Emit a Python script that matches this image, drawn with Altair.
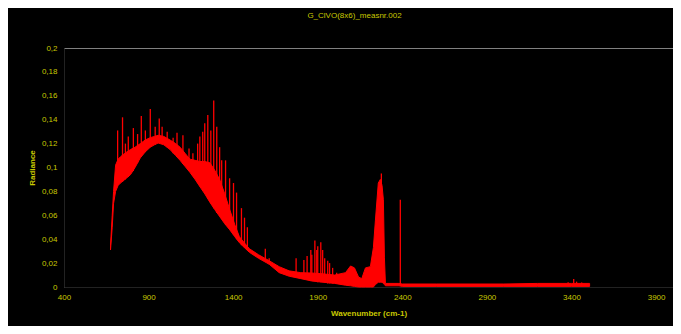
import altair as alt
import pandas as pd

# ---- data ----
band_wn = [675, 685, 693, 705, 720, 734, 760, 793, 820, 851, 880, 910, 935, 957, 990,
           1027, 1060, 1086, 1115, 1144, 1175, 1203, 1232, 1262, 1290, 1320, 1350, 1379,
           1410, 1437, 1466, 1496, 1550, 1613, 1672, 1731, 1800, 1865, 1930, 2000, 2064,
           2094, 2117, 2141, 2160, 2182, 2211, 2229, 2241, 2258, 2270, 2280, 2288, 2294,
           2300, 2380, 2400, 2600, 2800, 3000, 3200, 3400, 3507]
band_lo = [0.031, 0.050, 0.070, 0.080, 0.085, 0.087, 0.090, 0.094, 0.100, 0.108, 0.113,
           0.117, 0.119, 0.1205, 0.119, 0.115, 0.110, 0.106, 0.101, 0.096, 0.090, 0.084,
           0.078, 0.071, 0.065, 0.059, 0.053, 0.048, 0.042, 0.037, 0.033, 0.029, 0.024,
           0.019, 0.012, 0.009, 0.007, 0.005, 0.004, 0.003, 0.0015, 0.001, 0.0005, 0.0,
           0.0, 0.0, 0.0, 0.0, 0.002, 0.004, 0.004, 0.004, 0.003, 0.002, 0.001, 0.001,
           0.0005, 0.0005, 0.0005, 0.0005, 0.0005, 0.0005, 0.0005]
band_hi = [0.035, 0.060, 0.080, 0.102, 0.107, 0.109, 0.112, 0.115, 0.117, 0.120, 0.123,
           0.125, 0.126, 0.127, 0.126, 0.123, 0.120, 0.117, 0.112, 0.107, 0.106, 0.105,
           0.105, 0.104, 0.098, 0.090, 0.078, 0.065, 0.052, 0.042, 0.037, 0.032, 0.027,
           0.022, 0.017, 0.0135, 0.012, 0.0117, 0.011, 0.010, 0.012, 0.0176, 0.016,
           0.0084, 0.007, 0.016, 0.017, 0.033, 0.056, 0.087, 0.090, 0.085, 0.073, 0.025,
           0.003, 0.003, 0.0025, 0.0025, 0.0025, 0.0025, 0.003, 0.003, 0.003]

spike_wn = [717, 746, 763, 780, 810, 835, 857, 881, 910, 939, 963, 980, 1010, 1045, 1068,
            1103, 1139, 1162, 1190, 1203, 1220, 1232, 1250, 1268, 1285, 1303, 1320, 1332,
            1355, 1379, 1402, 1420, 1449, 1467, 1484, 1590, 1613, 1660, 1772, 1818, 1837,
            1859, 1865, 1883, 1894, 1900, 1918, 1929, 1941, 1959, 1970, 1988, 2012, 2276,
            2388, 3380, 3413, 3430, 3460]
spike_top = [0.131, 0.142, 0.120, 0.126, 0.133, 0.128, 0.143, 0.131, 0.149, 0.134, 0.141,
             0.134, 0.130, 0.125, 0.129, 0.127, 0.116, 0.112, 0.120, 0.126, 0.130, 0.137,
             0.144, 0.131, 0.156, 0.134, 0.117, 0.106, 0.106, 0.091, 0.087, 0.079, 0.066,
             0.058, 0.050, 0.032, 0.024, 0.018, 0.024, 0.0225, 0.026, 0.031, 0.027, 0.039,
             0.031, 0.034, 0.0375, 0.031, 0.024, 0.022, 0.020, 0.016, 0.012, 0.095, 0.073,
             0.004, 0.0067, 0.0045, 0.0038]
spike_base = [0.085, 0.088, 0.090, 0.092, 0.097, 0.104, 0.109, 0.113, 0.117, 0.119, 0.120,
              0.120, 0.117, 0.112, 0.109, 0.103, 0.097, 0.093, 0.087, 0.084, 0.081, 0.078,
              0.074, 0.070, 0.066, 0.062, 0.059, 0.057, 0.052, 0.048, 0.044, 0.040, 0.035,
              0.033, 0.031, 0.022, 0.019, 0.014, 0.008, 0.007, 0.006, 0.005, 0.005, 0.005,
              0.005, 0.004, 0.004, 0.004, 0.004, 0.003, 0.003, 0.003, 0.003, 0.005, 0.001,
              0.001, 0.001, 0.001, 0.001]

x_ticks = [400, 900, 1400, 1900, 2400, 2900, 3400, 3900]
y_ticks = [0, 0.02, 0.04, 0.06, 0.08, 0.1, 0.12, 0.14, 0.16, 0.18, 0.2]

band = pd.DataFrame({"wn": band_wn, "lo": band_lo, "hi": band_hi})
spikes = pd.DataFrame({"wn": spike_wn, "top": spike_top, "base": spike_base})

YEL = "#c8c800"
FONT = "Liberation Sans"

xscale = alt.Scale(domain=[400, 4000], nice=False, zero=False)
yscale = alt.Scale(domain=[0, 0.2], nice=False)

xaxis = alt.Axis(values=x_ticks, title="Wavenumber (cm-1)", grid=False, ticks=False,
                 labelPadding=6, titlePadding=8, format="d",
                 labelFlush=False, labelOverlap=False)
yaxis = alt.Axis(values=y_ticks, title="Radiance", grid=False, ticks=False,
                 labelPadding=7, titlePadding=5, labelFlush=False, labelOverlap=False,
                 labelExpr="replace(format(datum.value, '.2~f'), '.', ',')")

area = alt.Chart(band).mark_area(color="#ff0000", stroke="#ff0000", strokeWidth=1,
                                 interpolate="linear").encode(
    x=alt.X("wn:Q", scale=xscale, axis=xaxis),
    y=alt.Y("lo:Q", scale=yscale, axis=yaxis),
    y2="hi:Q",
)

rules = alt.Chart(spikes).mark_rule(color="#ff0000", strokeWidth=1.3).encode(
    x=alt.X("wn:Q", scale=xscale, axis=xaxis),
    y=alt.Y("top:Q", scale=yscale, axis=yaxis),
    y2="base:Q",
)

chart = alt.layer(area, rules).properties(
    width=609,
    height=239,
    padding={"left": 56, "top": 40, "right": 0, "bottom": 39},
    autosize="none",
    background="#000000",
    title=alt.TitleParams("G_ClVO(8x6)_measnr.002", font=FONT, fontSize=8,
                          fontWeight="normal", color=YEL, offset=24, dx=-14),
).configure_axis(
    labelColor=YEL, titleColor=YEL, labelFont=FONT, titleFont=FONT,
    labelFontSize=8, titleFontSize=8, titleFontWeight="bold",
    domainColor="#222222", domainWidth=1, labelOverlap=False,
).configure_view(
    stroke="#808080", strokeWidth=1,
)

chart.save("out.html", embed_options={"renderer": "svg", "actions": False})
